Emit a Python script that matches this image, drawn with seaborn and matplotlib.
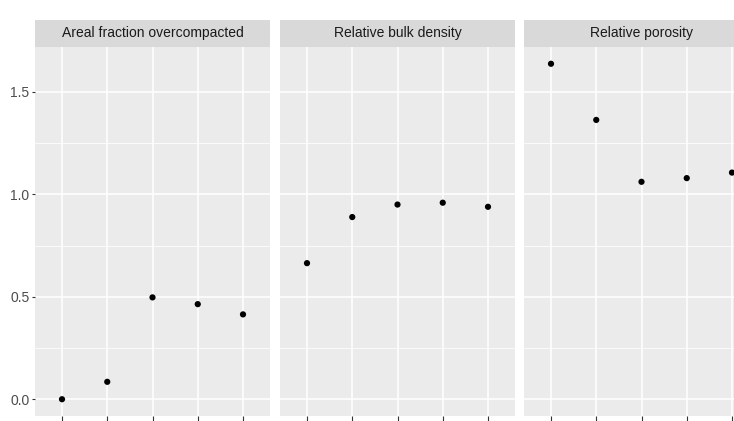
import numpy as np
import pandas as pd
import matplotlib
matplotlib.use('Agg')
import matplotlib.pyplot as plt
import seaborn as sns

# facet panels and values
facets = ['Areal fraction overcompacted', 'Relative bulk density', 'Relative porosity']
levels = [1, 2, 3, 4, 5]
areal_fraction = [0.0, 0.085, 0.497, 0.464, 0.414]
bulk_density = [0.664, 0.889, 0.950, 0.959, 0.939]
porosity = [1.637, 1.363, 1.061, 1.079, 1.106]
y_ticks = [0.0, 0.5, 1.0, 1.5]

df = pd.DataFrame({
    'facet': np.repeat(facets, len(levels)),
    'level': levels * len(facets),
    'value': areal_fraction + bulk_density + porosity,
})

sns.set_theme(style='darkgrid', rc={
    'axes.facecolor': '#EBEBEB',
    'grid.color': 'white',
})
plt.rcParams['font.family'] = ['Liberation Sans', 'DejaVu Sans']

W, H = 734, 421
fig = plt.figure(figsize=(W / 100, H / 100), dpi=100)
fig.patch.set_facecolor('white')

# ggplot-like expansion: 5% continuous, 0.6 discrete
vmin, vmax = df['value'].min(), df['value'].max()
pad = (vmax - vmin) * 0.05
ylim = (vmin - pad, vmax + pad)

panel_left = [34.85, 279.85, 523.85]
panel_w = 235.3
panel_top, panel_bot = 47, 416
strip_top = 20

for i, name in enumerate(facets):
    ax = fig.add_axes([panel_left[i] / W, (H - panel_bot) / H,
                       panel_w / W, (panel_bot - panel_top) / H])
    sub = df[df['facet'] == name]
    sns.scatterplot(data=sub, x='level', y='value', ax=ax, color='black',
                    s=20, edgecolor='none', zorder=3)
    ax.set_xlim(0.4, 5.6)
    ax.set_ylim(*ylim)
    ax.set_xticks(levels)
    ax.set_yticks(y_ticks)
    ax.set_yticks([0.25, 0.75, 1.25], minor=True)
    ax.grid(which='major', color='white', linewidth=1.1)
    ax.grid(which='minor', axis='y', color='white', linewidth=0.55)
    ax.set_xlabel('')
    ax.set_ylabel('')
    for s in ax.spines.values():
        s.set_visible(False)
    ax.tick_params(axis='x', which='major', bottom=True, length=3.5, width=0.8,
                   color='#333333', labelbottom=False)
    ax.tick_params(axis='y', which='minor', left=False)
    if i == 0:
        ax.set_yticklabels([f'{t:.1f}' for t in y_ticks])
        ax.tick_params(axis='y', which='major', left=True, length=2.5, width=0.8,
                       color='#333333', labelcolor='#4D4D4D', labelsize=10, pad=1.5)
    else:
        ax.tick_params(axis='y', which='major', left=False, labelleft=False)

    # facet strip
    sax = fig.add_axes([panel_left[i] / W, (H - panel_top) / H,
                        panel_w / W, (panel_top - strip_top) / H])
    sax.set_facecolor('#D9D9D9')
    sax.set_xticks([])
    sax.set_yticks([])
    sax.grid(False)
    for s in sax.spines.values():
        s.set_visible(False)
    sax.text(0.5, 0.5, name, ha='center', va='center', fontsize=10,
             color='#1A1A1A', transform=sax.transAxes)

fig.savefig('out.png', dpi=100)
